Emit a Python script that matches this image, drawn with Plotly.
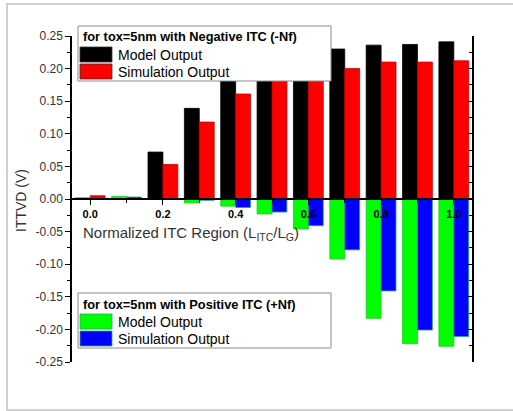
import plotly.graph_objects as go

# ---- data ----
x_vals = [0.0, 0.1, 0.2, 0.3, 0.4, 0.5, 0.6, 0.7, 0.8, 0.9, 1.0]
neg_model = [0.000, 0.000, 0.072, 0.139, 0.182, 0.205, 0.219, 0.230, 0.236, 0.237, 0.241]
neg_sim = [0.005, 0.000, 0.053, 0.118, 0.161, 0.186, 0.196, 0.200, 0.210, 0.210, 0.212]
pos_model = [0.002, 0.004, 0.000, -0.006, -0.011, -0.023, -0.046, -0.092, -0.183, -0.222, -0.226]
pos_sim = [0.000, 0.003, 0.000, -0.002, -0.013, -0.020, -0.041, -0.078, -0.141, -0.201, -0.211]

x_tick_vals = [0.0, 0.2, 0.4, 0.6, 0.8, 1.0]
x_tick_labels = ["0.0", "0.2", "0.4", "0.6", "0.8", "1.0"]
y_tick_vals = [0.25, 0.20, 0.15, 0.10, 0.05, 0.0, -0.05, -0.10, -0.15, -0.20, -0.25]
y_tick_labels = ["0.25", "0.20", "0.15", "0.10", "0.05", "0.00", "-0.05", "-0.10", "-0.15", "-0.20", "-0.25"]

legend_neg_title = "for tox=5nm with Negative ITC (-Nf)"
legend_pos_title = "for tox=5nm with Positive ITC (+Nf)"
series_names = ["Model Output", "Simulation Output"]
colors = {"neg_model": "#000000", "neg_sim": "#ff0000", "pos_model": "#00ff00", "pos_sim": "#0000ff"}

FONT = "Liberation Sans, Arial, sans-serif"
W, H = 513, 411
L, R, T, B = 72, 41, 36, 49
PW, PH = W - L - R, H - T - B


def fx(px):
    return (px - L) / PW


def fy(py):
    return (H - B - py) / PH


BW = 0.041
fig = go.Figure()
specs = [
    (neg_model, "neg_model", series_names[0], -BW, "#000000"),
    (neg_sim, "neg_sim", series_names[1], 0.0, "#c00000"),
    (pos_model, "pos_model", series_names[0], -BW, "#22cc22"),
    (pos_sim, "pos_sim", series_names[1], 0.0, "#22aa88"),
]
for vals, key, name, off, lc in specs:
    fig.add_trace(go.Bar(
        x=x_vals, y=vals, name=name, width=BW, offset=off,
        marker=dict(color=colors[key], line=dict(color=lc, width=0.8)),
        showlegend=False,
    ))
# invisible trace on right axis so it draws
fig.add_trace(go.Scatter(x=[0], y=[0], yaxis="y2", mode="markers",
                         marker=dict(opacity=0), showlegend=False, hoverinfo="skip"))

fig.update_layout(
    width=W, height=H,
    margin=dict(l=L, r=R, t=T, b=B),
    paper_bgcolor="white", plot_bgcolor="white",
    barmode="overlay",
    font=dict(family=FONT, color="#333333"),
    xaxis=dict(
        range=[-0.05, 1.05], anchor="free", position=0.5,
        showline=True, linecolor="#000000", linewidth=1.5,
        showgrid=False, zeroline=False,
        tickmode="array", tickvals=x_tick_vals, ticktext=x_tick_labels,
        ticks="outside", ticklen=5, tickcolor="#000000", tickwidth=1,
        tickfont=dict(family=FONT, size=11, color="#000000", weight="bold"),
        minor=dict(ticks="outside", ticklen=3, dtick=0.1, tickcolor="#000000"),
    ),
    yaxis=dict(
        range=[-0.25, 0.25], domain=[0, 1],
        showline=True, linecolor="#000000", linewidth=1.5,
        showgrid=False, zeroline=False,
        tickmode="array", tickvals=y_tick_vals, ticktext=y_tick_labels,
        ticks="outside", ticklen=5, tickcolor="#000000",
        tickfont=dict(family=FONT, size=12, color="#333333"),
        minor=dict(ticks="outside", ticklen=3, dtick=0.025, tickcolor="#000000"),
    ),
    yaxis2=dict(
        range=[-0.25, 0.25], overlaying="y", side="right",
        showline=True, linecolor="#000000", linewidth=1.5,
        showgrid=False, zeroline=False, showticklabels=False,
        tickmode="array", tickvals=y_tick_vals,
        ticks="inside", ticklen=5, tickcolor="#000000",
        minor=dict(ticks="inside", ticklen=3, dtick=0.025, tickcolor="#000000"),
    ),
)

shapes = []
annotations = []
# outer grey frame
shapes.append(dict(type="rect", xref="paper", yref="paper",
                   x0=fx(7), x1=fx(530), y0=fy(410), y1=fy(4),
                   line=dict(color="#d0d0d0", width=2), fillcolor="rgba(0,0,0,0)", layer="below"))


def add_legend(top, title, c1, c2):
    # box
    shapes.append(dict(type="rect", xref="paper", yref="paper",
                       x0=fx(78), x1=fx(331), y0=fy(top + 55), y1=fy(top),
                       line=dict(color="#8c8c8c", width=1), fillcolor="white", layer="above"))
    annotations.append(dict(xref="paper", yref="paper", x=fx(81), y=fy(top + 11),
                            text="<b>" + title + "</b>", showarrow=False,
                            xanchor="left", yanchor="middle",
                            font=dict(family=FONT, size=12.8, color="#000000")))
    for i, (c, nm) in enumerate([(c1, series_names[0]), (c2, series_names[1])]):
        y0 = top + 21 + i * 17
        shapes.append(dict(type="rect", xref="paper", yref="paper",
                           x0=fx(80), x1=fx(112), y0=fy(y0 + 15), y1=fy(y0),
                           line=dict(color="#22aa66" if c in ("#00ff00", "#0000ff") else "#333333", width=0.8),
                           fillcolor=c, layer="above"))
        annotations.append(dict(xref="paper", yref="paper", x=fx(116), y=fy(y0 + 7.5),
                                text=nm, showarrow=False, xanchor="left", yanchor="middle",
                                font=dict(family=FONT, size=14, color="#000000")))


add_legend(26, legend_neg_title, colors["neg_model"], colors["neg_sim"])
add_legend(293, legend_pos_title, colors["pos_model"], colors["pos_sim"])

# axis titles
annotations.append(dict(xref="paper", yref="paper", x=fx(81), y=fy(233),
                        text="Normalized ITC Region (L<sub>ITC</sub>/L<sub>G</sub>)",
                        showarrow=False, xanchor="left", yanchor="middle",
                        font=dict(family=FONT, size=15, color="#333333")))
annotations.append(dict(xref="paper", yref="paper", x=fx(21), y=fy(201),
                        text="ITTVD (V)", textangle=-90, showarrow=False,
                        xanchor="center", yanchor="middle",
                        font=dict(family=FONT, size=14, color="#333333")))

fig.update_layout(shapes=shapes, annotations=annotations)
fig.write_html("out.html")
